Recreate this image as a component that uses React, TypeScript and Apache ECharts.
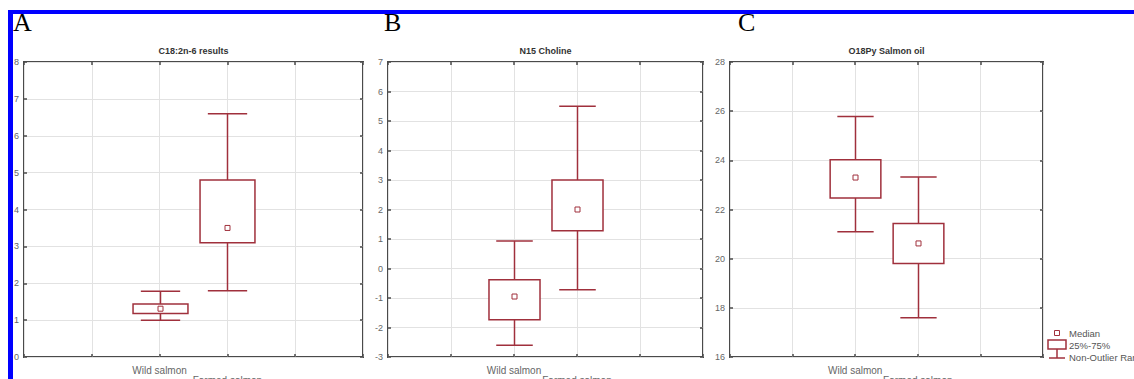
import React, { useEffect, useRef } from "react";
import * as echarts from "echarts";

// ---------- data ----------
const categories = ["Wild salmon", "Farmed salmon"];
const panelLetters = ["A", "B", "C"];
const panelTitles = ["C18:2n-6 results", "N15 Choline", "O18Py Salmon oil"];

// Panel A: C18:2n-6 results
const aLow = [1.0, 1.8];
const aQ1 = [1.18, 3.1];
const aMedian = [1.31, 3.5];
const aQ3 = [1.44, 4.8];
const aHigh = [1.78, 6.6];

// Panel B: N15 Choline
const bLow = [-2.6, -0.72];
const bQ1 = [-1.74, 1.28];
const bMedian = [-0.95, 2.0];
const bQ3 = [-0.38, 3.0];
const bHigh = [0.93, 5.5];

// Panel C: O18Py Salmon oil
const cLow = [21.1, 17.6];
const cQ1 = [22.47, 19.8];
const cMedian = [23.3, 20.62];
const cQ3 = [24.02, 21.43];
const cHigh = [25.78, 23.32];

const yMins = [0, -3, 16];
const yMaxs = [8, 7, 28];
const yIntervals = [1, 1, 2];

const legendLabels = ["Median", "25%-75%", "Non-Outlier Range"];

// ---------- layout / style ----------
const RED = "#a0303c";
const FRAME = "#4a4a4a";
const FONT = "Liberation Sans, Arial, sans-serif";
const SLOT_OFFSET = 2; // categories occupy slots 2 and 3 of a 0..5 axis
const grids = [
  { left: 24, top: 62, width: 339, height: 295 },
  { left: 388, top: 62, width: 315, height: 295 },
  { left: 730, top: 62, width: 313, height: 295 },
];
const letterX = [13, 384, 738];

const panels = [
  { low: aLow, q1: aQ1, med: aMedian, q3: aQ3, high: aHigh },
  { low: bLow, q1: bQ1, med: bMedian, q3: bQ3, high: bHigh },
  { low: cLow, q1: cQ1, med: cMedian, q3: cQ3, high: cHigh },
];

function renderBox(params: any, api: any) {
  const x = api.value(0);
  const pLow = api.coord([x, api.value(1)]);
  const pQ1 = api.coord([x, api.value(2)]);
  const pMed = api.coord([x, api.value(3)]);
  const pQ3 = api.coord([x, api.value(4)]);
  const pHigh = api.coord([x, api.value(5)]);
  const step = api.coord([x + 1, api.value(3)])[0] - pMed[0];
  const bw = step * 0.81;
  const cw = step * 0.58;
  const cx = Math.round(pMed[0]) + 0.5;
  const st = { stroke: RED, lineWidth: 1.5, fill: "transparent" };
  return {
    type: "group",
    children: [
      { type: "line", shape: { x1: cx, y1: pQ3[1], x2: cx, y2: pHigh[1] }, style: st },
      { type: "line", shape: { x1: cx, y1: pQ1[1], x2: cx, y2: pLow[1] }, style: st },
      { type: "line", shape: { x1: cx - cw / 2, y1: pHigh[1], x2: cx + cw / 2, y2: pHigh[1] }, style: st },
      { type: "line", shape: { x1: cx - cw / 2, y1: pLow[1], x2: cx + cw / 2, y2: pLow[1] }, style: st },
      {
        type: "rect",
        shape: { x: cx - bw / 2, y: pQ3[1], width: bw, height: pQ1[1] - pQ3[1] },
        style: { stroke: RED, lineWidth: 1.5, fill: "#fff" },
      },
      {
        type: "rect",
        shape: { x: cx - 2.5, y: pMed[1] - 2.5, width: 5, height: 5 },
        style: { stroke: RED, lineWidth: 1, fill: "#fff" },
      },
    ],
  };
}

export default function App() {
  const ref = useRef<HTMLDivElement>(null);

  useEffect(() => {
    if (!ref.current) return;
    const chart = echarts.init(ref.current, undefined, { renderer: "svg" });

    const xAxes: any[] = [];
    const yAxes: any[] = [];
    const series: any[] = [];
    const tick = { show: true, inside: true, length: 3, lineStyle: { color: FRAME, width: 1.5 } };

    grids.forEach((g, i) => {
      // bottom x axis (labels)
      xAxes.push({
        type: "value",
        gridIndex: i,
        min: 0,
        max: 5,
        interval: 1,
        position: "bottom",
        axisLine: { show: false, onZero: false },
        axisTick: tick,
        splitLine: { show: true, lineStyle: { color: "#e2e2e2", width: 1 } },
        axisLabel: {
          show: true,
          margin: 8,
          fontSize: 10,
          lineHeight: 10,
          color: "#666",
          fontFamily: FONT,
          showMinLabel: true,
          showMaxLabel: true,
          formatter: (v: number) => {
            const idx = v - SLOT_OFFSET;
            if (idx < 0 || idx >= categories.length) return "";
            return idx % 2 === 1 ? "\n" + categories[idx] : categories[idx];
          },
        },
      });
      // top mirror x axis (ticks only)
      xAxes.push({
        type: "value",
        gridIndex: i,
        min: 0,
        max: 5,
        interval: 1,
        position: "top",
        axisLine: { show: false, onZero: false },
        axisTick: tick,
        splitLine: { show: false },
        axisLabel: { show: false },
      });
      // left y axis
      yAxes.push({
        type: "value",
        gridIndex: i,
        min: yMins[i],
        max: yMaxs[i],
        interval: yIntervals[i],
        position: "left",
        axisLine: { show: false, onZero: false },
        axisTick: tick,
        splitLine: { show: true, lineStyle: { color: "#e2e2e2", width: 1 } },
        axisLabel: { show: true, margin: 5, fontSize: 9, color: "#666", fontFamily: FONT },
      });
      // right mirror y axis
      yAxes.push({
        type: "value",
        gridIndex: i,
        min: yMins[i],
        max: yMaxs[i],
        interval: yIntervals[i],
        position: "right",
        axisLine: { show: false, onZero: false },
        axisTick: tick,
        splitLine: { show: false },
        axisLabel: { show: false },
      });

      const p = panels[i];
      series.push({
        type: "custom",
        name: panelTitles[i],
        xAxisIndex: i * 2,
        yAxisIndex: i * 2,
        renderItem: renderBox,
        clip: false,
        encode: { x: 0, y: [1, 2, 3, 4, 5] },
        data: categories.map((_, k) => [k + SLOT_OFFSET, p.low[k], p.q1[k], p.med[k], p.q3[k], p.high[k]]),
        z: 5,
      });
    });

    const graphics: any[] = [];
    grids.forEach((g, i) => {
      graphics.push({
        type: "text",
        x: g.left + g.width / 2,
        y: 51,
        style: {
          text: panelTitles[i],
          fontSize: 9,
          fontWeight: "bold",
          fontFamily: FONT,
          fill: "#333",
          align: "center",
          verticalAlign: "middle",
        },
      });
      graphics.push({
        type: "text",
        x: letterX[i],
        y: 9,
        style: {
          text: panelLetters[i],
          fontSize: 26,
          fontFamily: "Liberation Serif, Times New Roman, serif",
          fill: "#000",
          align: "left",
          verticalAlign: "top",
        },
      });
    });

    // legend
    const lt = { fontSize: 9.5, fontFamily: FONT, fill: "#555", align: "left", verticalAlign: "middle" };
    graphics.push(
      { type: "rect", shape: { x: 1054.5, y: 330.5, width: 5, height: 5 }, style: { stroke: RED, lineWidth: 1, fill: "#fff" } },
      { type: "rect", shape: { x: 1048, y: 340, width: 18, height: 9 }, style: { stroke: RED, lineWidth: 1.5, fill: "#fff" } },
      { type: "line", shape: { x1: 1057, y1: 349, x2: 1057, y2: 358 }, style: { stroke: RED, lineWidth: 1.5 } },
      { type: "line", shape: { x1: 1049, y1: 358, x2: 1065, y2: 358 }, style: { stroke: RED, lineWidth: 1.5 } },
      { type: "text", x: 1069, y: 333, style: { ...lt, text: legendLabels[0] } },
      { type: "text", x: 1069, y: 345, style: { ...lt, text: legendLabels[1] } },
      { type: "text", x: 1069, y: 357, style: { ...lt, text: legendLabels[2] } }
    );

    // blue frame
    graphics.push(
      { type: "rect", z: 100, shape: { x: 8, y: 10, width: 1126, height: 4 }, style: { fill: "#0000ff" } },
      { type: "rect", z: 100, shape: { x: 8, y: 10, width: 5, height: 369 }, style: { fill: "#0000ff" } }
    );

    chart.setOption({
      animation: false,
      backgroundColor: "#fff",
      textStyle: { fontFamily: FONT },
      grid: grids.map((g) => ({
        ...g,
        show: true,
        borderColor: FRAME,
        borderWidth: 2,
        backgroundColor: "#fff",
        containLabel: false,
        outerBoundsMode: "none",
      })),
      xAxis: xAxes,
      yAxis: yAxes,
      series,
      graphic: graphics,
    });

    return () => chart.dispose();
  }, []);

  return (
    <div
      ref={ref}
      style={{ position: "absolute", left: 0, top: 0, width: 1134, height: 379 }}
    />
  );
}
